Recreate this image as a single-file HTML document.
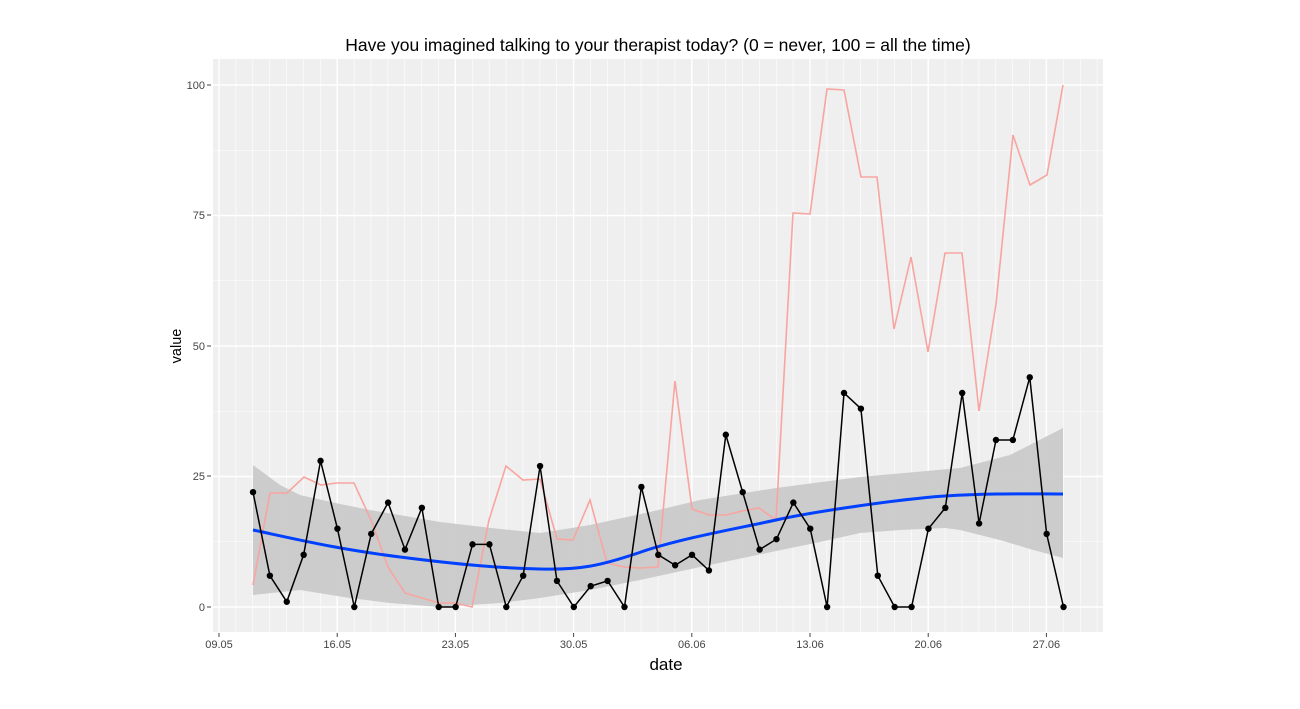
<!DOCTYPE html>
<html><head><meta charset="utf-8"><style>
body{margin:0;background:#fff;}
svg text{font-family:"Liberation Sans",Arial,sans-serif;}
</style></head><body>
<svg width="1300" height="704" xmlns="http://www.w3.org/2000/svg">
<rect width="1300" height="704" fill="#fff"/>
<rect x="213" y="59" width="890" height="573" fill="#efefef"/>
<g id="grid" stroke="#fff"></g>
<polygon fill="#c8c8c8" opacity="0.9" points="253,465 280,485 300,495 340,504 370,510 440,522 500,529 540,533 590,525 650,512 700,500 776,488 860,477 960,468 1010,455 1063,428 1063,558 1030,549 1000,540 960,530 945,528 900,530 860,533 820,542 776,551 700,567 640,580 590,590 540,598 500,603 440,607 390,603 350,598 300,590 253,595"/>
<polyline fill="none" stroke="#f8a5a0" stroke-width="1.6" points="253,585 270,493 287,493 304,477 321,485 337,483 354,483 371,520 388,567 405,593 422,598 439,603 456,603 472,607 489,520 506,466 523,480 540,479 557,539 573,540 590,500 607,563 624,567 641,568 658,567 675,381 692,509 709,515 726,515 742,511 759,508 776,520 793,213 810,214 827,89 844,90 861,177 877,177 894,329 911,257 928,352 945,253 962,253 979,411 996,304 1013,135 1030,185 1047,175 1063,85"/>
<path fill="none" stroke="#0040ff" stroke-width="3" d="M253,530 C300,540 337,549 400,557 S500,568 540,569 S600,566 641,552 S740,528 776,520 S900,499 945,496 S1030,494 1063,494"/>
<g id="pts"></g>
<g font-size="11" fill="#444" text-anchor="end">
<text x="205" y="89">100</text><text x="205" y="219">75</text><text x="205" y="350">50</text><text x="205" y="480">25</text><text x="205" y="611">0</text>
</g>
<g stroke="#444"><line x1="207" y1="85" x2="211" y2="85"/><line x1="207" y1="215" x2="211" y2="215"/><line x1="207" y1="346" x2="211" y2="346"/><line x1="207" y1="476" x2="211" y2="476"/><line x1="207" y1="607" x2="211" y2="607"/></g>
<g font-size="11" fill="#444" text-anchor="middle" id="xl"></g>
<text x="658" y="51" font-size="17.5" text-anchor="middle" fill="#000">Have you imagined talking to your therapist today? (0 = never, 100 = all the time)</text>
<text x="666" y="670" font-size="17" text-anchor="middle" fill="#000">date</text>
<text transform="translate(181,346) rotate(-90)" font-size="14.5" text-anchor="middle" fill="#000">value</text>
</svg>
<script>
var ns="http://www.w3.org/2000/svg";
function el(p,t,a){var e=document.createElementNS(ns,t);for(var k in a)e.setAttribute(k,a[k]);p.appendChild(e);return e;}
var g=document.getElementById("grid");
var d=16.886;
for(var i=-1;i<54;i++){var x=219+i*d;if(x<213||x>1103)continue;el(g,"line",{x1:x,x2:x,y1:59,y2:632,"stroke-width":(i%7==0)?1.4:0.6});}
for(var v=-12.5;v<=112.5;v+=12.5){var y=607-v*5.22;if(y<59||y>632)continue;el(g,"line",{x1:213,x2:1103,y1:y,y2:y,"stroke-width":(v%25==0)?1.4:0.6});}
var vals=[22,6,1,10,28,15,0,14,20,11,19,0,0,12,12,0,6,27,5,0,4,5,0,23,10,8,10,7,33,22,11,13,20,15,0,41,38,6,0,0,15,19,41,16,32,32,44,14,0];
var pts=document.getElementById("pts"),s="";
vals.forEach(function(v,i){s+=(253+i*d)+","+(607-v*5.22)+" ";});
el(pts,"polyline",{points:s,fill:"none",stroke:"#000","stroke-width":1.5});
vals.forEach(function(v,i){el(pts,"circle",{cx:253+i*d,cy:607-v*5.22,r:3.2,fill:"#000"});});
var xl=document.getElementById("xl"),labs=["09.05","16.05","23.05","30.05","06.06","13.06","20.06","27.06"];
labs.forEach(function(l,i){var x=219+i*7*d;el(xl,"line",{x1:x,x2:x,y1:633,y2:637,stroke:"#444"});var t=el(xl,"text",{x:x,y:648});t.textContent=l;});
</script>
</body></html>
